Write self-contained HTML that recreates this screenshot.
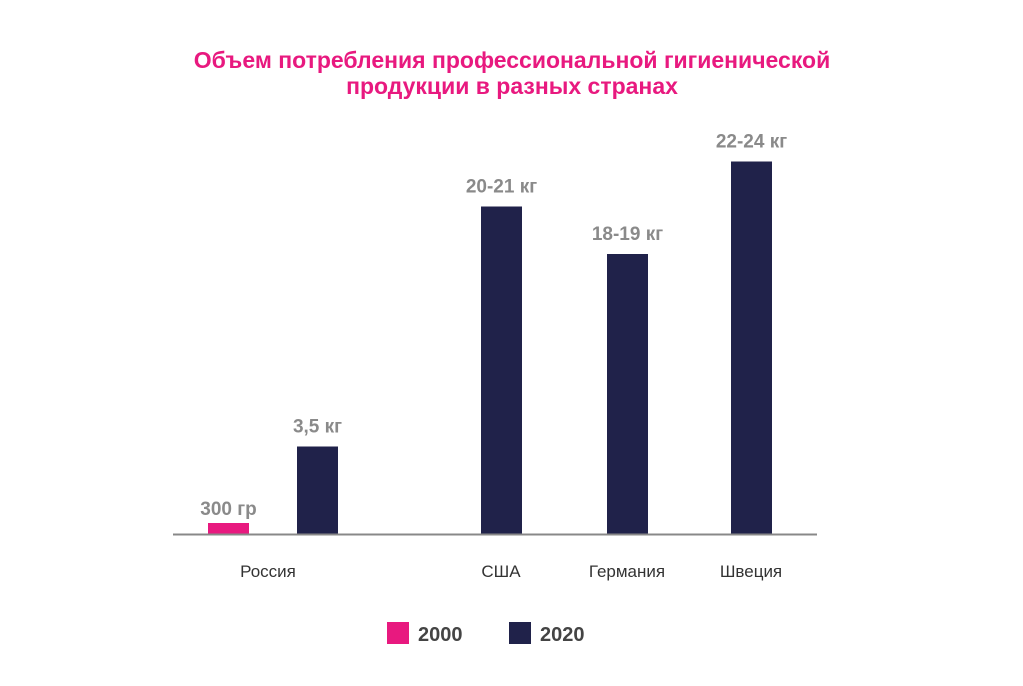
<!DOCTYPE html>
<html><head><meta charset="utf-8">
<style>
body{margin:0;background:#fff;width:1023px;height:681px;overflow:hidden;font-family:"Liberation Sans",sans-serif;}
</style></head><body>
<svg width="1023" height="681">
<text x="512" y="68" text-anchor="middle" font-size="23" font-weight="bold" fill="#e8197f">Объем потребления профессиональной гигиенической</text>
<text x="512" y="94" text-anchor="middle" font-size="23" font-weight="bold" fill="#e8197f">продукции в разных странах</text>
<g id="plot"></g>
<line x1="173" y1="534.5" x2="817" y2="534.5" stroke="#888" stroke-width="2"/>
<rect x="387" y="622" width="22" height="22" fill="#e8197f"/>
<text x="418" y="641" font-size="20" font-weight="bold" fill="#444">2000</text>
<rect x="509" y="622" width="22" height="22" fill="#20224a"/>
<text x="540" y="641" font-size="20" font-weight="bold" fill="#444">2020</text>
</svg>
<script>
const categories=["Россия","США","Германия","Швеция"];
const catCenters=[268,501,627,751];
const values2000=[0.44,null,null,null];
const values2020=[3.5,13.1,11.2,14.9];
const labels2000=["300 гр","","",""];
const labels2020=["3,5 кг","20-21 кг","18-19 кг","22-24 кг"];
const baseY=534, pxPerUnit=25, barW=41;
const y=v=>baseY-v*pxPerUnit;
const g=document.getElementById('plot');
const NS="http://www.w3.org/2000/svg";
function mk(t,a){const e=document.createElementNS(NS,t);for(const k in a)e.setAttribute(k,a[k]);g.appendChild(e);return e;}
categories.forEach((c,i)=>{
  const cx=catCenters[i];
  const t=mk('text',{x:cx,y:577,'text-anchor':'middle','font-size':17,fill:'#333'});
  t.textContent=c;
  
  
  let x2020=i===0?297:cx-20;
  if(values2000[i]!=null){
    const x0=208;
    const r=mk('rect',{x:x0,y:y(values2000[i]),width:barW,height:values2000[i]*pxPerUnit,fill:'#e8197f'});
    
    
    const l=mk('text',{x:x0+barW/2,y:y(values2000[i])-8,'text-anchor':'middle','font-size':19,'font-weight':'bold',fill:'#8a8a8a'});
    l.textContent=labels2000[i];
    
    
  }
  const r2=mk('rect',{x:x2020,y:y(values2020[i]),width:barW,height:values2020[i]*pxPerUnit,fill:'#20224a'});
  
  
  const l2=mk('text',{x:x2020+barW/2,y:y(values2020[i])-14,'text-anchor':'middle','font-size':19,'font-weight':'bold',fill:'#8a8a8a'});
  l2.textContent=labels2020[i];
  
  
});
</script>
</body></html>
